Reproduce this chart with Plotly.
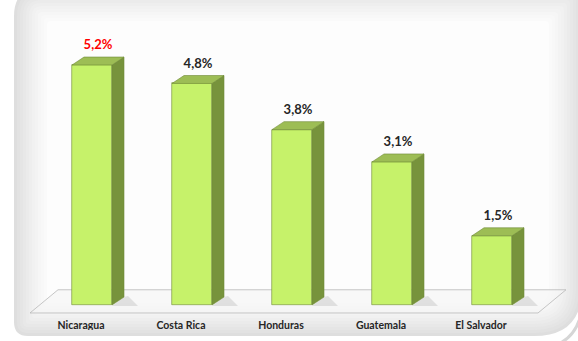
import plotly.graph_objects as go

# ---- data ----
categories = ["Nicaragua", "Costa Rica", "Honduras", "Guatemala", "El Salvador"]
values = [5.2, 4.8, 3.8, 3.1, 1.5]
label_colors = ["#ff0000", "#262626", "#262626", "#262626", "#262626"]

W, H = 578, 341
ML, MR, MT, MB = 20, 8, 20, 11
PW, PH = W - ML - MR, H - MT - MB

FRONT = "#c6f26a"
SIDE = "#77933c"
TOP = "#9dbd55"
EDGE = "#6f8a35"

BW = 0.4      # bar front width
DX = 0.12     # depth in x units
DY = 0.173    # depth in y units

n = len(categories)
xs = list(range(n))

fig = go.Figure()

# front faces
fig.add_trace(go.Bar(
    x=xs, y=values, width=BW,
    marker=dict(color=FRONT, line=dict(color=EDGE, width=0.6)),
    hoverinfo="skip", showlegend=False,
))

# shadows, sides, tops
for i, v in enumerate(values):
    r = i + BW / 2
    l = i - BW / 2
    fig.add_trace(go.Scatter(
        x=[r, r + DX + 0.14, r + DX + 0.04, r + DX],
        y=[-0.02, -0.02, DY + 0.02, DY],
        fill="toself", fillcolor="rgba(130,130,130,0.2)", mode="none",
        hoverinfo="skip", showlegend=False))
    fig.add_trace(go.Scatter(
        x=[r, r, r + DX, r + DX, r],
        y=[0, v, v + DY, DY, 0],
        fill="toself", fillcolor=SIDE, mode="lines",
        line=dict(color=EDGE, width=0.6),
        hoverinfo="skip", showlegend=False))
    fig.add_trace(go.Scatter(
        x=[l, r, r + DX, l + DX, l],
        y=[v, v, v + DY, v + DY, v],
        fill="toself", fillcolor=TOP, mode="lines",
        line=dict(color=EDGE, width=0.6),
        hoverinfo="skip", showlegend=False))

# value labels
fig.add_trace(go.Scatter(
    x=[i + DX / 2 for i in xs],
    y=[v + DY + 0.24 for v in values],
    text=[f"{v:.1f}".replace(".", ",") + "%" for v in values],
    mode="text", textposition="middle center",
    textfont=dict(family="Lato", size=13, color=label_colors, weight="bold"),
    hoverinfo="skip", showlegend=False))

# category labels
fig.add_trace(go.Scatter(
    x=[i - 0.11 for i in xs],
    y=[-0.47] * n,
    text=categories,
    mode="text", textposition="middle center",
    textfont=dict(family="Lato", size=10.5, color="#262626", weight="bold"),
    hoverinfo="skip", showlegend=False))

# ---- background panel (paper coords from pixels) ----
def px(xp):
    return (xp - ML) / PW

def py(yp):
    return 1 - (yp - MT) / PH

def rrect(x0, y0, x1, y1, rtl, rtr, rbr, rbl):
    pts = [
        f"M {px(x0 + rtl)},{py(y0)}",
        f"L {px(x1 - rtr)},{py(y0)}",
        f"Q {px(x1)},{py(y0)} {px(x1)},{py(y0 + rtr)}",
        f"L {px(x1)},{py(y1 - rbr)}",
        f"Q {px(x1)},{py(y1)} {px(x1 - rbr)},{py(y1)}",
        f"L {px(x0 + rbl)},{py(y1)}",
        f"Q {px(x0)},{py(y1)} {px(x0)},{py(y1 - rbl)}",
        f"L {px(x0)},{py(y0 + rtl)}",
        f"Q {px(x0)},{py(y0)} {px(x0 + rtl)},{py(y0)}",
        "Z",
    ]
    return " ".join(pts)

shapes = []
# little outer arc at the bottom-right corner
shapes.append(dict(
    type="path", xref="paper", yref="paper", layer="below",
    path=f"M {px(580)},{py(318)} Q {px(574)},{py(338)} {px(556)},{py(345)}",
    line=dict(color="#d6d6d6", width=3)))

levels = 12
for k in range(levels):
    g = int(222 + (253 - 222) * (k / (levels - 1)) ** 0.8)
    inset = k * 3.0
    shapes.append(dict(
        type="path", xref="paper", yref="paper", layer="below",
        path=rrect(14 + inset, -12 + inset, 582 - inset, 336 - inset,
                   max(28 - inset, 4), 4, max(48 - inset, 6), max(14 - inset, 3)),
        fillcolor=f"rgb({g},{g},{g})", line=dict(width=0)))

# floor parallelogram (data coords)
fx0, fx1 = -0.62, (n - 1) + 0.46
shapes.append(dict(
    type="path", xref="x", yref="y", layer="below",
    path=f"M {fx0},{-DY} L {fx1},{-DY} L {fx1 + 0.28},{0.33} L {fx0 + 0.28},{0.33} Z",
    fillcolor="rgba(245,245,245,0.6)", line=dict(color="#b8b8b8", width=0.8)))

fig.update_layout(
    width=W, height=H,
    margin=dict(l=ML, r=MR, t=MT, b=MB),
    paper_bgcolor="white", plot_bgcolor="rgba(0,0,0,0)",
    shapes=shapes,
    xaxis=dict(range=[(ML - 92) / 100, (ML + PW - 92) / 100], visible=False, fixedrange=True),
    yaxis=dict(range=[-(MT + PH - 305) / 46.15, (305 - MT) / 46.15], visible=False, fixedrange=True),
    bargap=0,
)

fig.write_html("out.html")
